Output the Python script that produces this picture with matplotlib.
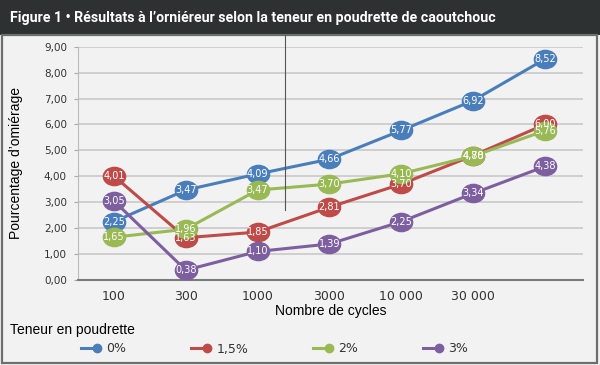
import matplotlib
matplotlib.use("Agg")
import matplotlib.pyplot as plt
from matplotlib.path import Path
from matplotlib.patches import Rectangle
from matplotlib.lines import Line2D
from matplotlib.legend_handler import HandlerBase
import numpy as np

categories = ["100", "300", "1000", "3000", "10 000", "30 000", ""]
series_names = ["0%", "1,5%", "2%", "3%"]
s0 = [2.25, 3.47, 4.09, 4.66, 5.77, 6.92, 8.52]
s15 = [4.01, 1.63, 1.85, 2.81, 3.70, 4.80, 6.00]
s2 = [1.65, 1.96, 3.47, 3.70, 4.10, 4.78, 5.76]
s3 = [3.05, 0.38, 1.10, 1.39, 2.25, 3.34, 4.38]
colors = ["#4a7ebb", "#be4b48", "#98b954", "#7d5fa0"]
yticks = [0, 1, 2, 3, 4, 5, 6, 7, 8, 9]

title = "Figure 1 • Résultats à l’orniéreur selon la teneur en poudrette de caoutchouc"

W, H = 600, 365
fig = plt.figure(figsize=(6, 3.65), dpi=100)
fig.patch.set_facecolor("#f2f2f2")

# title bar
fig.add_artist(Rectangle((0, 1 - 35 / H), 1, 35 / H, transform=fig.transFigure,
                         facecolor="#2e3131", edgecolor="none", zorder=0))
fig.text(10 / W, 1 - 18 / H, title, color="white", fontsize=10.2, fontweight="bold",
         family=["Roboto", "Liberation Sans", "DejaVu Sans"],
         va="center", ha="left")
# frame
fig.add_artist(Rectangle((2 / W, 2 / H), 595 / W, (H - 37) / H, transform=fig.transFigure,
                         facecolor="none", edgecolor="#6e6e6e", linewidth=1.6, zorder=5))
# stray vertical line
fig.add_artist(Line2D([285 / W, 285 / W], [1 - 35 / H, 1 - 210 / H], transform=fig.transFigure,
                      color="#555555", linewidth=0.8, zorder=5))

ax = fig.add_axes([78 / W, 1 - 280 / H, (583 - 78) / W, (280 - 46.7) / H])
ax.set_facecolor("#f2f2f2")

ell = Path.unit_circle()
ell = Path(ell.vertices * np.array([1.0, 0.82]), ell.codes)

x = np.arange(len(categories))
for vals, c, name in zip([s0, s15, s2, s3], colors, series_names):
    ax.plot(x, vals, color=c, lw=2.2, marker=ell, ms=16, mec=c, mfc=c, label=name,
            zorder=3)
    for xi, v in zip(x, vals):
        ax.text(xi, v, f"{v:.2f}".replace(".", ","), color="white", fontsize=7,
                ha="center", va="center", zorder=4)

ax.set_xlim(-0.5, 6.53)
ax.set_ylim(0, 9)
ax.set_yticks(yticks)
ax.set_yticklabels([f"{v:.2f}".replace(".", ",") for v in yticks], fontsize=7.5,
                   color="#333333")
ax.set_xticks(x)
ax.set_xticklabels(categories, fontsize=9, color="#333333")
ax.tick_params(axis="x", length=0, pad=7)
ax.tick_params(axis="y", length=3, color="#aaaaaa", pad=5)
ax.grid(axis="y", color="#c8c8c8", lw=1.2)
ax.set_axisbelow(True)
for s in ["top", "right"]:
    ax.spines[s].set_visible(False)
ax.spines["left"].set_color("#bbbbbb")
ax.spines["bottom"].set_color("#7a7a7a")
ax.spines["bottom"].set_linewidth(1.5)

lab_font = ["Liberation Sans", "DejaVu Sans"]
ax.set_ylabel("Pourcentage d’omiérage", fontsize=10, family=lab_font)
ax.yaxis.set_label_coords(-0.108, 0.5)
ax.set_xlabel("Nombre de cycles", fontsize=10, family=lab_font, labelpad=1)

fig.text(10 / W, 1 - 330 / H, "Teneur en poudrette", fontsize=10, family=lab_font,
         va="center", ha="left")


class EndMarkerHandler(HandlerBase):
    def create_artists(self, legend, orig_handle, xdescent, ydescent, width, height,
                       fontsize, trans):
        c = orig_handle.get_color()
        y = height / 2 - ydescent
        line = Line2D([-xdescent, -xdescent + width], [y, y], color=c, lw=2.2,
                      transform=trans)
        mk = Line2D([-xdescent + width - 2], [y], color=c, marker="o", ms=6, mec=c,
                    mfc=c, lw=0, transform=trans)
        return [line, mk]


handles = [Line2D([], [], color=c, lw=2.2) for c in colors]
leg = fig.legend(handles, series_names, loc="center left",
                 bbox_to_anchor=(70 / W, 1 - 349 / H), ncol=4, frameon=False,
                 fontsize=9, handlelength=1.5, columnspacing=5.2, handletextpad=0.5,
                 handler_map={Line2D: EndMarkerHandler()})
for t in leg.get_texts():
    t.set_color("#333333")

fig.savefig("out.png", dpi=100, facecolor=fig.get_facecolor())
